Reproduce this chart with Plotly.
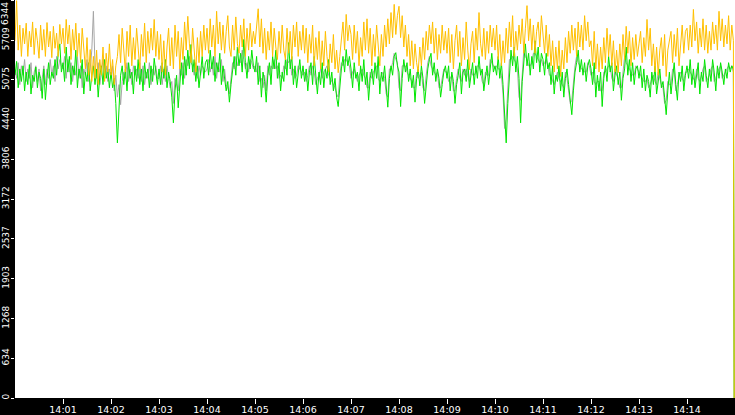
import pandas as pd
import plotly.graph_objects as go

# ****************
# * Chart values *
# ****************

# Samples every 2 s from 14:00:00, one row per minute; the last sample drops to zero.
day = "2024-01-01"
start_time = day + " 14:00:00"
step = "2s"
drop_time = day + " 14:14:59"
end_time = day + " 14:15:00"

orange_vals = [
    5700, 6340, 5550, 5950, 5450, 5900, 5650, 5980, 5450, 5850, 5600, 6000, 5480, 5900, 5700, 5420, 5950, 5550, 5880, 5450, 5990, 5600, 5850, 5430, 5930, 5580, 5820, 5450, 5960, 5650,
    5900, 5500, 6040, 5650, 5950, 5400, 5880, 5550, 5980, 5450, 5820, 5350, 5900, 5500, 5250, 5750, 5150, 5560, 5050, 5450, 5100, 5550, 5000, 5400, 5150, 5600, 5050, 5500, 5200, 5650,
    5150, 5400, 5000, 5300, 5450, 5800, 5350, 5900, 5500, 5200, 5850, 5450, 5950, 5300, 5750, 5400, 5900, 5550, 5250, 5800, 5450, 5980, 5350, 5850, 5500, 5900, 5550, 6040, 5450, 5850,
    5400, 5800, 5200, 5700, 5150, 5600, 5900, 5300, 5750, 5250, 5950, 5450, 5850, 5250, 5750, 5400, 6000, 5550, 6090, 5650, 5350, 5900, 5500, 5200, 5750, 5350, 5850, 5450, 5950, 5550,
    5900, 5500, 6050, 5600, 5950, 5450, 6170, 5650, 6000, 5550, 5950, 5500, 5850, 6100, 5600, 5450, 5950, 5550, 6080, 5650, 5500, 5950, 5600, 6050, 5450, 5900, 5550, 5980, 5600, 5850,
    5650, 6000, 6210, 5600, 6050, 5500, 5900, 5400, 5850, 5550, 6000, 5450, 5900, 5600, 5400, 5850, 5500, 5950, 5550, 5400, 5900, 5500, 5850, 5400, 5950, 5600, 6000, 5450, 5850, 5550,
    5950, 5500, 5900, 5350, 5800, 5500, 5950, 5300, 5750, 5400, 5850, 5250, 5700, 5300, 5850, 5450, 5200, 5650, 5350, 5800, 5250, 5550, 5190, 5450, 5800, 6000, 5550, 6120, 5700, 5950,
    5800, 5400, 5950, 5500, 5850, 5300, 5750, 5450, 6000, 5550, 6050, 5500, 5900, 5300, 5800, 5450, 5950, 5550, 5300, 5800, 5450, 5950, 5600, 6050, 5650, 6150, 5750, 6280, 5800, 6100,
    6250, 5750, 6100, 5600, 5950, 5450, 5800, 5300, 5700, 5250, 5650, 5350, 5200, 5600, 5300, 5750, 5400, 5850, 5550, 5950, 5650, 6000, 5500, 5900, 5400, 5800, 5500, 5950, 5550, 5850,
    5500, 5900, 5350, 5800, 5250, 5700, 5950, 5450, 5850, 5300, 5750, 5400, 6000, 5550, 5240, 5650, 5850, 5350, 5900, 5550, 6150, 5650, 5450, 5900, 5400, 5850, 5500, 5950, 5600, 5900,
    5550, 5950, 5400, 5800, 5300, 5700, 5350, 5900, 5500, 6000, 5600, 6100, 5450, 5850, 5550, 5950, 5650, 6050, 5500, 5900, 6260, 5700, 6050, 5550, 5950, 5500, 5850, 6000, 5600, 6100,
    5850, 5500, 5950, 5450, 5800, 5300, 5700, 5200, 5600, 5250, 5700, 5130, 5550, 5250, 5750, 5350, 5850, 5500, 5950, 5550, 5900, 5450, 6000, 5600, 5950, 5550, 6100, 5700, 6000, 5600,
    5700, 5300, 5850, 5250, 5650, 5200, 5600, 5250, 5750, 5350, 5900, 5450, 5800, 5300, 5700, 5200, 5550, 5190, 5650, 5300, 5800, 5400, 5930, 5500, 5850, 5300, 5750, 5400, 5800, 5450,
    5650, 5850, 5350, 5750, 5450, 6040, 5550, 5900, 5300, 5650, 5200, 5600, 5150, 5550, 5750, 5300, 5800, 5130, 5550, 5700, 5850, 5350, 5800, 5450, 5900, 5300, 5700, 5950, 5500, 5850,
    5900, 5550, 5950, 5600, 6200, 5700, 6000, 5500, 5900, 5600, 6050, 5550, 5950, 5500, 5850, 5550, 6000, 5650, 5950, 5550, 6170, 5700, 6050, 5600, 5950, 5650, 6100, 5550, 5950, 5700,
    0,
]

green_vals = [
    5150, 5370, 4950, 5250, 5050, 5300, 4900, 5200, 5000, 5320, 4850, 5150, 5050, 5280, 4950, 5200, 5100, 4780, 5250, 4760, 5100, 5350, 5000, 5200, 5100, 5400, 5150, 5500, 5650, 5200,
    5350, 5050, 5600, 5200, 5450, 5000, 5300, 5150, 5550, 4950, 5250, 5100, 5400, 4850, 5200, 5050, 5350, 4900, 5150, 5300, 5000, 5250, 4800, 5150, 5300, 5000, 5400, 5100, 5250, 4950,
    5200, 4950, 5100, 4700, 4070, 4600, 5150, 5300, 5000, 5250, 4900, 5350, 5100, 5200, 4850, 5300, 5050, 5400, 5000, 5250, 4900, 5350, 5100, 5250, 4950, 5300, 5050, 5420, 5150, 5000,
    5250, 5000, 5350, 5100, 5400, 4950, 5200, 5050, 4800, 4390, 4900, 5150, 4630, 5100, 5350, 5000, 5450, 5150, 5550, 5250, 5640, 5200, 5400, 5050, 5300, 4950, 5250, 5450, 5100, 5350,
    5400, 5150, 5550, 5250, 5450, 5050, 5350, 5200, 5500, 5000, 5300, 5100, 4900, 5050, 4720, 5000, 5250, 5450, 5150, 5600, 5300, 5500, 5200, 5720, 5350, 5100, 5450, 5250, 5550, 5300,
    5200, 5450, 5000, 5300, 4800, 5200, 5050, 4720, 5150, 5350, 5000, 5450, 5250, 5550, 5100, 5350, 4900, 5200, 5050, 5400, 5150, 5670, 5250, 5450, 5000, 5300, 4950, 5200, 5400, 5100,
    5300, 5050, 5250, 4900, 5200, 5350, 5000, 5450, 5100, 4850, 5200, 5000, 5350, 4950, 5250, 5100, 5400, 5000, 5200, 4900, 5100, 4800, 4650, 5000, 5250, 5450, 5200, 5560, 5300, 5450,
    5250, 4950, 5350, 5100, 5200, 4900, 5300, 5050, 5400, 5000, 5200, 4750, 5100, 5250, 5000, 5350, 5100, 5450, 4850, 5200, 5050, 5300, 4950, 4640, 5100, 5300, 5150, 5450, 5510, 5300,
    5200, 4650, 5100, 5400, 5200, 5350, 5050, 5250, 4950, 5150, 4720, 5100, 5250, 4980, 5300, 5100, 4700, 5050, 5250, 5400, 5500, 5150, 5350, 5050, 5250, 5100, 4800, 5000, 5200, 5300,
    5100, 5300, 4900, 5200, 5050, 4700, 5000, 5150, 5350, 4850, 5200, 5250, 5050, 5400, 4950, 5150, 5350, 5000, 5300, 5100, 5450, 5150, 5250, 4900, 5100, 5300, 5000, 5250, 5500, 5200,
    5300, 5150, 5450, 5100, 5350, 5000, 4600, 4070, 4700, 5250, 5550, 5300, 5600, 5200, 5450, 5100, 4390, 5050, 5400, 5650, 5300, 5500, 5150, 5450, 5250, 5700, 5350, 5600, 5200, 5500,
    5400, 5150, 5500, 5250, 5350, 5000, 5300, 4850, 5150, 5050, 5300, 4900, 5200, 4800, 5100, 5250, 5000, 4800, 4520, 4900, 5200, 5350, 5550, 5200, 5400, 5150, 5350, 5050, 5300, 5400,
    5250, 5000, 5350, 4800, 5150, 4900, 5200, 4650, 5100, 5300, 5050, 5450, 5200, 5350, 4900, 5150, 5300, 5000, 5200, 4750, 5100, 5250, 5600, 5150, 5400, 5050, 5350, 5000, 5250, 5300,
    5100, 5300, 4950, 5250, 4900, 5150, 5050, 4800, 5200, 5000, 5300, 4850, 5100, 5250, 4950, 5050, 4800, 4520, 4900, 5200, 4850, 5150, 5350, 5000, 4750, 5200, 5050, 5300, 4900, 5150,
    5300, 5100, 5400, 5000, 5250, 4950, 5150, 5350, 4850, 5200, 5050, 5400, 5150, 4950, 5250, 5050, 5400, 5200, 4900, 5300, 5100, 5350, 5200, 5000, 5250, 5100, 5350, 5200, 5300, 5250,
    0,
]

gray_vals = [
    5250, 5100, 5350, 5000, 5300, 5150, 5400, 5050, 5250, 5100, 5350, 4950, 5200, 5300, 5050, 5250, 4900, 5150, 5300, 5000, 5250, 5100, 5400, 5150, 5300, 5050, 5450, 5250, 5400, 5300,
    5250, 5450, 5100, 5400, 5200, 5350, 5050, 5300, 5150, 5450, 5100, 5300, 4950, 5250, 5150, 5400, 5050, 5250, 5550, 6170, 5300, 5100, 5350, 5000, 5200, 5400, 5150, 5300, 5050, 5250,
    5100, 5300, 4900, 5150, 4800, 5000, 4680, 5050, 5200, 5100, 5350, 5050, 5250, 5000, 5300, 5150, 5250, 5100, 5350, 5050, 5300, 5000, 5200, 5100, 5350, 5000, 5250, 5150, 5300, 5100,
    5100, 5300, 5000, 5250, 5050, 5300, 5100, 4950, 5050, 4700, 5100, 5000, 4900, 5250, 5150, 5350, 5100, 5400, 5300, 5450, 5350, 5300, 5150, 5350, 5100, 5300, 5150, 5300, 5250, 5200,
    5250, 5400, 5200, 5350, 5150, 5450, 5100, 5350, 5200, 5400, 5050, 5250, 5000, 4950, 4850, 5150, 5350, 5250, 5450, 5300, 5400, 5350, 5550, 5400, 5250, 5350, 5200, 5400, 5350, 5250,
    5300, 5200, 5350, 5050, 5100, 4950, 5150, 4900, 5300, 5150, 5300, 5250, 5400, 5250, 5300, 5100, 5150, 5100, 5300, 5250, 5400, 5350, 5400, 5150, 5250, 5100, 5150, 5300, 5250, 5200,
    5150, 5200, 5050, 5150, 5300, 5150, 5300, 5200, 5000, 5100, 5150, 5250, 5100, 5200, 5250, 5300, 5150, 5100, 5050, 5000, 4950, 4850, 4800, 5150, 5350, 5300, 5400, 5400, 5350, 5300,
    5100, 5200, 5250, 5150, 5050, 5150, 5200, 5250, 5150, 5100, 4950, 4950, 5200, 5100, 5200, 5250, 5300, 5100, 5050, 5150, 5200, 5100, 4850, 4800, 5250, 5250, 5350, 5500, 5400, 5350,
    4950, 4900, 5300, 5300, 5300, 5200, 5150, 5100, 5050, 4950, 4950, 5200, 5100, 5150, 5200, 4950, 4900, 5150, 5350, 5450, 5300, 5250, 5200, 5150, 5200, 4950, 4950, 5100, 5250, 5200,
    5200, 5050, 5100, 5150, 4900, 4900, 5100, 5250, 5100, 5050, 5250, 5150, 5250, 5150, 5050, 5250, 5150, 5150, 5200, 5300, 5300, 5200, 5050, 5000, 5200, 5150, 5150, 5400, 5350, 5300,
    5250, 5300, 5250, 5250, 5150, 4850, 4300, 4450, 5000, 5400, 5400, 5450, 5400, 5350, 5250, 4800, 4750, 5250, 5550, 5450, 5400, 5300, 5300, 5350, 5500, 5500, 5450, 5400, 5350, 5400,
    5300, 5350, 5400, 5300, 5150, 5150, 5050, 5000, 5100, 5200, 5100, 5050, 5000, 4950, 5200, 5100, 4900, 4700, 4750, 5050, 5300, 5450, 5350, 5300, 5250, 5250, 5200, 5200, 5350, 5300,
    5150, 5200, 5050, 5000, 5050, 5050, 4900, 4900, 5200, 5200, 5250, 5300, 5300, 5100, 5050, 5250, 5150, 5100, 4950, 4950, 5200, 5450, 5350, 5300, 5250, 5200, 5150, 5150, 5300, 5250,
    5200, 5150, 5100, 5050, 5050, 5100, 4950, 5000, 5100, 5150, 5050, 5000, 5200, 5100, 5000, 4950, 4700, 4750, 5050, 5000, 5000, 5250, 5200, 4900, 5000, 5150, 5200, 5100, 5050, 5200,
    5200, 5250, 5200, 5150, 5100, 5050, 5250, 5100, 5050, 5150, 5250, 5300, 5050, 5100, 5150, 5250, 5300, 5050, 5100, 5200, 5250, 5300, 5100, 5150, 5200, 5250, 5300, 5250, 5300, 5200,
    0,
]

# Axis tick labels.
x_ticks = ["14:01", "14:02", "14:03", "14:04", "14:05", "14:06", "14:07",
           "14:08", "14:09", "14:10", "14:11", "14:12", "14:13", "14:14"]
y_ticks = [0, 634, 1268, 1903, 2537, 3172, 3806, 4440, 5075, 5709, 6344]

# Time stamps: regular samples plus the final drop.
times = list(pd.date_range(start_time, periods=len(orange_vals) - 1, freq=step))
times.append(pd.Timestamp(drop_time))

# ****************
# * Build figure *
# ****************

fig = go.Figure()

# Draw order: gray underneath, then green, orange on top.
for vals, color in [(gray_vals, "#a6a6a6"),
                    (green_vals, "#00e600"),
                    (orange_vals, "#ffc000")]:
    fig.add_trace(
        go.Scatter(
            x=times,
            y=vals,
            mode="lines",
            line=dict(color=color, width=1),
            hoverinfo="skip",
        )
    )

x_font = dict(family="DejaVu Sans", size=9.5, color="white")
y_font = dict(family="DejaVu Sans", size=9, color="white")

fig.update_xaxes(
    type="date",
    range=[pd.Timestamp(start_time), pd.Timestamp(end_time)],
    tickvals=[pd.Timestamp(day + " " + t) for t in x_ticks],
    ticktext=x_ticks,
    ticks="outside",
    ticklen=5,
    tickwidth=1,
    tickcolor="white",
    tickfont=x_font,
    ticklabelstandoff=-2,
    showgrid=False,
    zeroline=False,
    showline=False,
    automargin=False,
)

# The top label is drawn as an annotation so it can sit below its tick.
fig.update_yaxes(
    range=[0, 6350],
    tickvals=y_ticks,
    ticktext=[str(v) for v in y_ticks[:-1]] + [""],
    tickangle=-90,
    ticks="outside",
    ticklen=3,
    tickwidth=1,
    tickcolor="white",
    tickfont=y_font,
    ticklabelstandoff=-2,
    showgrid=False,
    zeroline=False,
    showline=False,
    automargin=False,
)

fig.add_annotation(
    text=str(y_ticks[-1]),
    xref="paper", x=0, xanchor="right", xshift=-4,
    yref="y", y=y_ticks[-1], yanchor="top", yshift=-1,
    textangle=-90,
    showarrow=False,
    font=y_font,
    borderpad=0,
)

fig.update_layout(
    width=735,
    height=415,
    margin=dict(l=15, r=0, t=0, b=17, autoexpand=False),
    paper_bgcolor="black",
    plot_bgcolor="white",
    showlegend=False,
)

# Drop the page's default body margin so the chart fills the window.
fig.write_html(
    "out.html",
    config={"displayModeBar": False},
    post_script="document.body.style.margin='0';",
)
